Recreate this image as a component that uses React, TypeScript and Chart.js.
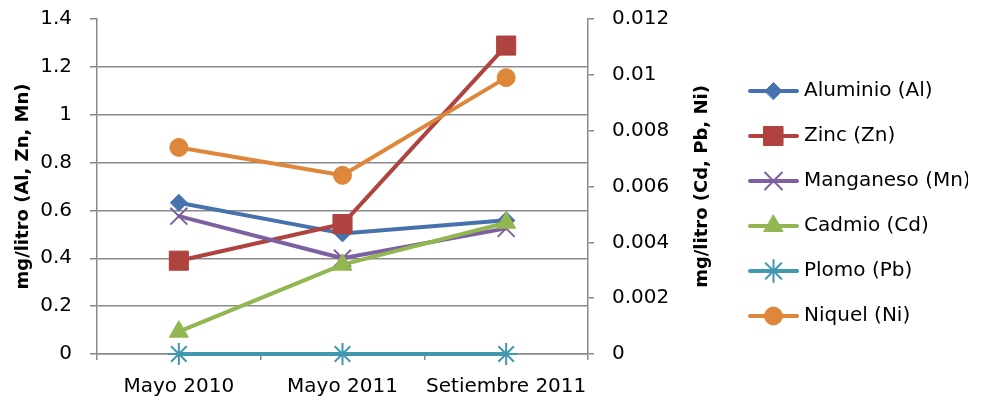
import React, { useEffect, useRef } from 'react';
import { Chart, registerables } from 'chart.js';
import { drawPoint } from 'chart.js/helpers';

Chart.register(...registerables);

const CATEGORIES = ['Mayo 2010', 'Mayo 2011', 'Setiembre 2011'];
const ALUMINIO = [0.632, 0.504, 0.559];
const ZINC = [0.39, 0.543, 1.289];
const MANGANESO = [0.576, 0.4, 0.525];
const CADMIO = [0.0008, 0.0032, 0.0047];
const PLOMO = [0, 0, 0];
const NIQUEL = [0.0074, 0.0064, 0.0099];
const LEFT_TICKS = [0, 0.2, 0.4, 0.6, 0.8, 1, 1.2, 1.4];
const RIGHT_TICKS = [0, 0.002, 0.004, 0.006, 0.008, 0.01, 0.012];
const LEFT_TITLE = 'mg/litro (Al, Zn, Mn)';
const RIGHT_TITLE = 'mg/litro (Cd, Pb, Ni)';

const FONT = "'DejaVu Sans'";
const GRID = '#8a8a8a';

const SERIES = [
  { label: 'Aluminio (Al)', data: ALUMINIO, color: '#4672AD', style: 'rectRot', radius: 8.5, axis: 'y', bw: 1 },
  { label: 'Zinc (Zn)', data: ZINC, color: '#AE433F', style: 'rect', radius: 13.5, axis: 'y', bw: 1 },
  { label: 'Manganeso (Mn)', data: MANGANESO, color: '#7D60A0', style: 'crossRot', radius: 12, axis: 'y', bw: 2 },
  { label: 'Cadmio (Cd)', data: CADMIO, color: '#92B650', style: 'triangle', radius: 11, axis: 'y1', bw: 1 },
  { label: 'Plomo (Pb)', data: PLOMO, color: '#4198AF', style: 'star', radius: 11, axis: 'y1', bw: 2 },
  { label: 'Niquel (Ni)', data: NIQUEL, color: '#DE873B', style: 'circle', radius: 9, axis: 'y1', bw: 1 },
];

function makeIcon(s: any): HTMLCanvasElement {
  const c = document.createElement('canvas');
  c.width = 51;
  c.height = 28;
  const ctx = c.getContext('2d') as CanvasRenderingContext2D;
  ctx.strokeStyle = s.color;
  ctx.lineWidth = 4;
  ctx.lineCap = 'round';
  ctx.beginPath();
  ctx.moveTo(2, 14);
  ctx.lineTo(49, 14);
  ctx.stroke();
  ctx.fillStyle = s.color;
  ctx.strokeStyle = s.color;
  ctx.lineWidth = s.bw;
  drawPoint(ctx, { pointStyle: s.style, radius: s.radius, borderWidth: s.bw, rotation: 0 } as any, 25.5, 14);
  return c;
}

const fmt = (v: any) => String(Number(Number(v).toFixed(4)));

export default function App() {
  const ref = useRef<HTMLCanvasElement>(null);

  useEffect(() => {
    if (!ref.current) return;
    const icons = SERIES.map(makeIcon);

    const rightTitle = {
      id: 'rightTitle',
      afterDraw(chart: any) {
        const s = chart.scales.y1;
        const ca = chart.chartArea;
        const ctx = chart.ctx;
        ctx.save();
        ctx.translate(s.left + 114, (ca.top + ca.bottom) / 2);
        ctx.rotate(-Math.PI / 2);
        ctx.font = `bold 18px ${FONT}`;
        ctx.fillStyle = '#000';
        ctx.textAlign = 'center';
        ctx.textBaseline = 'middle';
        ctx.fillText(RIGHT_TITLE, 0, 0);
        ctx.restore();
      },
    };

    const chart = new Chart(ref.current, {
      type: 'line',
      data: {
        labels: CATEGORIES,
        datasets: SERIES.map((s, i) => ({
          label: s.label,
          data: s.data,
          yAxisID: s.axis,
          order: SERIES.length - 1 - i,
          borderColor: s.color,
          backgroundColor: s.color,
          borderWidth: 4,
          borderJoinStyle: 'round',
          borderCapStyle: 'round',
          pointStyle: s.style,
          pointRadius: s.radius,
          pointHoverRadius: s.radius,
          pointBackgroundColor: s.color,
          pointBorderColor: s.color,
          pointBorderWidth: s.bw,
          tension: 0,
          fill: false,
          clip: false,
        })) as any,
      },
      options: {
        animation: false,
        responsive: false,
        layout: { padding: { top: 0, bottom: 0, left: 0, right: 14 } },
        plugins: {
          tooltip: { enabled: false },
          legend: {
            position: 'right',
            maxWidth: 240,
            title: { display: true, text: '', font: { size: 5, lineHeight: 1.4 }, padding: 0 },
            labels: {
              usePointStyle: true,
              pointStyleWidth: 41,
              padding: 25,
              color: '#000',
              font: { family: FONT, size: 20 },
              sort: (a: any, b: any) => a.datasetIndex - b.datasetIndex,
              generateLabels: (ch: any) => {
                const items = (Chart.defaults.plugins.legend.labels as any).generateLabels(ch);
                return items.map((it: any) => ({ ...it, pointStyle: icons[it.datasetIndex] }));
              },
            },
          } as any,
        },
        scales: {
          x: {
            offset: true,
            grid: {
              display: true,
              drawOnChartArea: false,
              drawTicks: true,
              tickLength: 6,
              offset: true,
              color: GRID,
              lineWidth: 1.5,
            },
            border: { display: true, color: GRID, width: 1.5, z: -1 },
            ticks: {
              color: '#000',
              padding: 15,
              maxRotation: 0,
              autoSkip: false,
              font: { family: FONT, size: 20 },
            },
            afterFit: (s: any) => { s.height = 46; s.paddingLeft = 0; s.paddingRight = 0; },
          },
          y: {
            position: 'left',
            min: 0,
            max: 1.4,
            afterBuildTicks: (s: any) => { s.ticks = LEFT_TICKS.map((v) => ({ value: v })); },
            grid: {
              color: (c: any) => (c.tick && c.tick.value === 1.4 ? 'rgba(0,0,0,0)' : GRID),
              tickColor: GRID,
              lineWidth: 1.5,
              tickLength: 7,
            },
            border: { display: true, color: GRID, width: 1.5, z: -1 },
            ticks: {
              color: '#000',
              padding: 18,
              font: { family: FONT, size: 20 },
              callback: (v: any) => fmt(v),
            },
            title: {
              display: true,
              text: LEFT_TITLE,
              color: '#000',
              font: { family: FONT, size: 18, weight: 'bold', lineHeight: 1.2 },
              padding: { top: 13, bottom: 0 },
            },
            afterFit: (s: any) => { s.width = 97; s.paddingTop = 19; s.paddingBottom = 0; },
          },
          y1: {
            position: 'right',
            min: 0,
            max: 0.012,
            afterBuildTicks: (s: any) => { s.ticks = RIGHT_TICKS.map((v) => ({ value: v })); },
            grid: {
              drawOnChartArea: false,
              color: GRID,
              tickColor: GRID,
              lineWidth: 1.5,
              tickLength: 6,
            },
            border: { display: true, color: GRID, width: 1.5, z: -1 },
            ticks: {
              color: '#000',
              padding: 18,
              font: { family: FONT, size: 20 },
              callback: (v: any) => fmt(v),
            },
            afterFit: (s: any) => { s.width = 140; s.paddingTop = 19; s.paddingBottom = 0; },
          },
        },
      } as any,
      plugins: [rightTitle],
    });
    return () => chart.destroy();
  }, []);

  return (
    <div style={{ position: 'absolute', left: 0, top: 0, width: 982, height: 400, background: '#fff' }}>
      <canvas ref={ref} width={982} height={400} style={{ width: 982, height: 400, display: 'block' }} />
    </div>
  );
}
